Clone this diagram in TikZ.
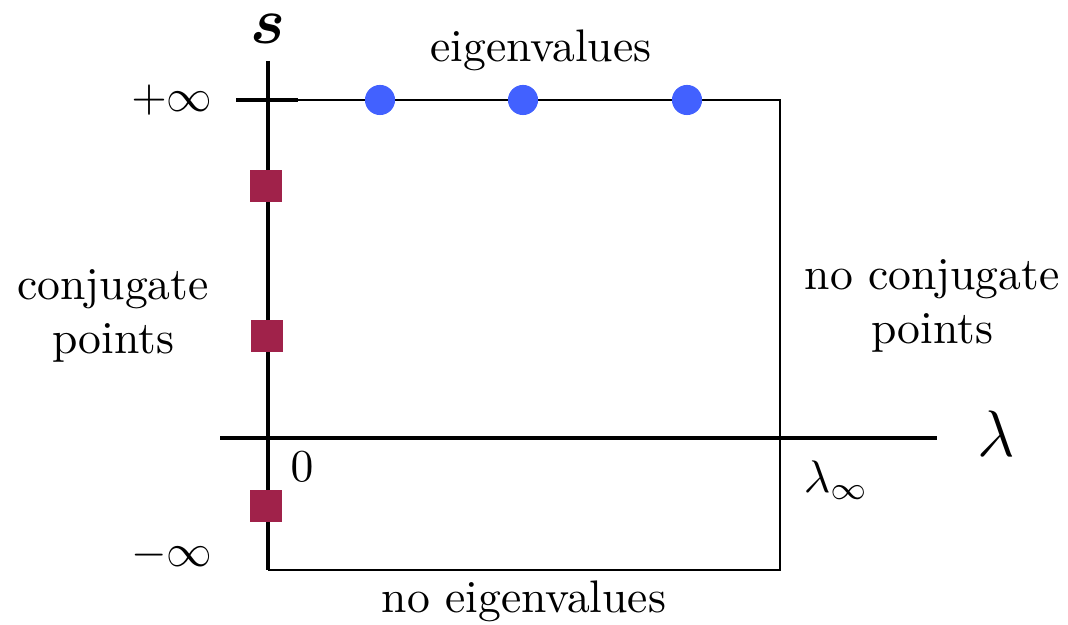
\documentclass[tikz,border=0pt]{standalone}
\usepackage{amsmath,bm}
\definecolor{eigblue}{RGB}{66,97,255}
\definecolor{conjred}{RGB}{160,34,74}
\begin{document}
\begin{tikzpicture}[x=0.2192pt,y=-0.2192pt,
  thinline/.style={line width=0.5pt},
  thickline/.style={line width=0.75pt},
  eig/.style={circle,fill=eigblue,draw=none,inner sep=0pt,minimum size=6.6pt},
  conj/.style={rectangle,fill=conjred,draw=none,inner sep=0pt,minimum size=7pt},
  lbl/.style={inner sep=0pt}]
\useasboundingbox (0,0) rectangle (1068,625);
% coordinates
\coordinate (vtop) at (268,61);
\coordinate (vbot) at (268,570);
\coordinate (htl) at (220,438);
\coordinate (htr) at (937,438);
\coordinate (tickl) at (236,100);
\coordinate (tickr) at (298,100);
\coordinate (tr) at (780,100);
\coordinate (br) at (780,570);
% frame
\draw[thinline] (tickr) -- (tr) -- (br) -- (vbot);
\draw[thickline] (tickl) -- (tickr);
\draw[thickline] (vtop) -- (vbot);
\draw[thickline] (htl) -- (htr);
% markers
\node[eig] (e1) at (380,100) {};
\node[eig] (e2) at (523,100) {};
\node[eig] (e3) at (687,100) {};
\node[conj] (c1) at (266,186) {};
\node[conj] (c2) at (267,336) {};
\node[conj] (c3) at (266,506) {};
% labels
\node[lbl,anchor=base] (s) at (268,44) {\Large$\bm{s}$};
\node[lbl,anchor=base] (eigt) at (541,62) {eigenvalues};
\node[lbl] (pinf) at (172,100) {$+\infty$};
\node[lbl] (minf) at (172,555) {$-\infty$};
\node[lbl,align=center] (cp) at (113,316) {conjugate\\points};
\node[lbl,align=center] (ncp) at (932,306) {no conjugate\\points};
\node[lbl,anchor=base] (lam) at (996,457) {\Large$\lambda$};
\node[lbl,anchor=base] (zero) at (302,482) {$0$};
\node[lbl,anchor=base west] (laminf) at (803,493) {$\lambda_\infty$};
\node[lbl,anchor=base] (neig) at (524,613) {no eigenvalues};
\end{tikzpicture}
\end{document}
